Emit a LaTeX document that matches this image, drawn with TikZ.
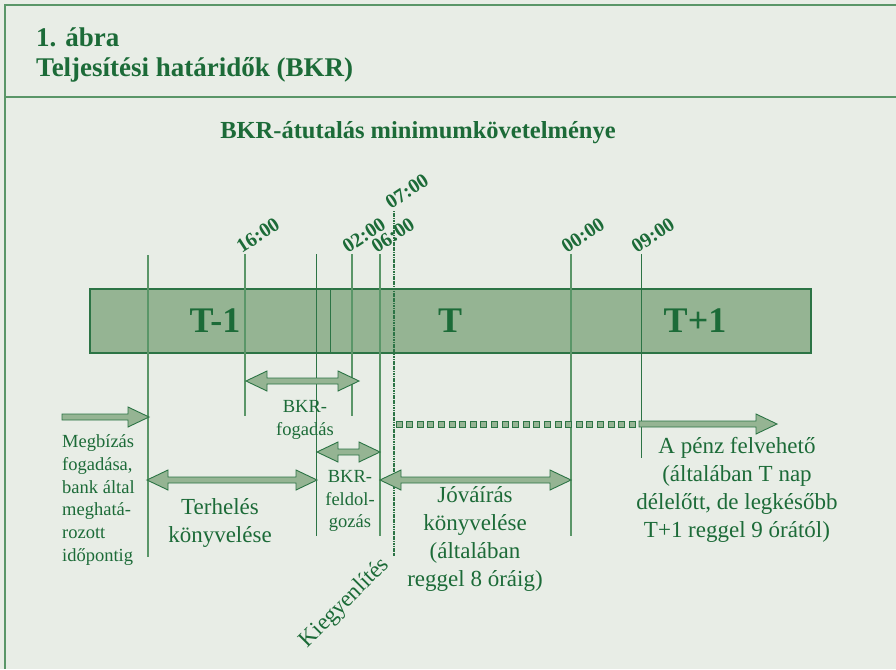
\documentclass[tikz,border=0pt]{standalone}
\usepackage{fontspec}
\setmainfont{Liberation Serif}

\definecolor{bkrbg}{HTML}{E8EDE6}
\definecolor{bkrfill}{HTML}{95B493}
\definecolor{bkrdark}{HTML}{2C7445}
\definecolor{bkrtext}{HTML}{1C6B38}
\definecolor{bkrline}{HTML}{5A9668}

\newcommand{\fs}[2]{\fontsize{#1}{#2}\selectfont}

% block arrows: left x, right x, y
\newcommand{\twoarrow}[3]{%
\draw[blk] (#1,#3) -- (#1+21,#3-10) -- (#1+21,#3-3) -- (#2-21,#3-3) -- (#2-21,#3-10) -- (#2,#3)
  -- (#2-21,#3+10) -- (#2-21,#3+3) -- (#1+21,#3+3) -- (#1+21,#3+10) -- cycle;}
\newcommand{\onearrow}[3]{%
\draw[blk] (#1,#3-3) -- (#2-21,#3-3) -- (#2-21,#3-10) -- (#2,#3)
  -- (#2-21,#3+10) -- (#2-21,#3+3) -- (#1,#3+3) -- cycle;}

\tikzset{
  timelbl/.style={rotate=33, anchor=south west, inner sep=0pt, text=bkrtext, font=\bfseries\fs{20}{20}},
  tick/.style={bkrline, line width=1.2pt},
  blk/.style={fill=bkrfill, draw=bkrdark, line width=0.9pt, line join=miter},
  lbl/.style={text=bkrtext, align=center, inner sep=0pt, font=\fs{23}{28}},
  small/.style={text=bkrtext, align=center, inner sep=0pt, font=\fs{18.5}{22.8}},
  daylbl/.style={text=bkrtext, inner sep=0pt, font=\bfseries\fs{36}{36}},
}

\begin{document}
\begin{tikzpicture}[x=1pt, y=-1pt]
\useasboundingbox (0,0) rectangle (896,669);
\fill[bkrbg] (0,0) rectangle (896,669);

% frame and header
\draw[bkrline, line width=2pt] (896,5) -- (5,5) -- (5,669);
\draw[bkrline, line width=2pt] (5,97) -- (896,97);
\node[anchor=base west, inner sep=0pt, text=bkrtext, font=\bfseries\fs{27}{27}] (fig) at (36,47) {1. ábra};
\node[anchor=base west, inner sep=0pt, text=bkrtext, font=\bfseries\fs{27}{27}] (title) at (36,77) {Teljesítési határidők (BKR)};
\node[anchor=base, inner sep=0pt, text=bkrtext, font=\bfseries\fs{24.5}{24.5}] (sub) at (418,138) {BKR-átutalás minimumkövetelménye};

% days
\draw[fill=bkrfill, draw=bkrdark, line width=1.2pt] (90,289) rectangle (811,353);
\draw[bkrdark, line width=0.9pt] (330,289) -- (330,353);
\node[daylbl] (tm1) at (215,321) {T-1};
\node[daylbl] (t0) at (450,321) {T};
\node[daylbl] (tp1) at (695,321) {T+1};

% time marks
\draw[tick] (148,255) -- (148,557);
\draw[tick] (245,254) -- (245,416);
\draw[tick, bkrdark, line width=1pt] (316,254) -- (316,536);
\draw[tick] (352,254) -- (352,416);
\draw[tick] (380,254) -- (380,536);
\draw[tick] (571,254) -- (571,536);
\draw[tick, bkrdark, line width=1pt] (641,254) -- (641,458);
\draw[bkrdark, line width=1.6pt, dash pattern=on 1.2pt off 0.5pt] (394,211) -- (394,556);

\node[timelbl] (h16) at (242,254) {16:00};
\node[timelbl] (h02) at (348,254) {02:00};
\node[timelbl] (h06) at (377,254) {06:00};
\node[timelbl] (h07) at (391,210) {07:00};
\node[timelbl] (h00) at (567,254) {00:00};
\node[timelbl] (h09) at (637,254) {09:00};

% arrows
\twoarrow{246}{359}{381}
\onearrow{62}{149}{417}
\twoarrow{147}{317}{480}
\twoarrow{317}{380}{452}
\twoarrow{380}{571}{480}
\foreach \i in {0,...,22}
  \draw[blk, line width=0.7pt] (396+\i*10.6,421) rectangle ++(6,6);
\onearrow{639}{777}{424}

% texts
\node[small] (fogad) at (305,420) {BKR-\\fogadás};
\node[small, align=left, anchor=west] (megb) at (62,500) {Megbízás\\fogadása,\\bank által\\meghatá-\\rozott\\időpontig};
\node[lbl] (terh) at (220,523) {Terhelés\\könyvelése};
\node[small] (feld) at (350,501) {BKR-\\feldol-\\gozás};
\node[lbl] (jova) at (475,539) {Jóváírás\\könyvelése\\(általában\\reggel 8 óráig)};
\node[lbl] (penz) at (737,490) {A pénz felvehető\\(általában T nap\\délelőtt, de legkésőbb\\T+1 reggel 9 órától)};
\node[lbl, rotate=45, font=\fs{23}{23}] (kiegy) at (345,603) {Kiegyenlítés};

\end{tikzpicture}
\end{document}
